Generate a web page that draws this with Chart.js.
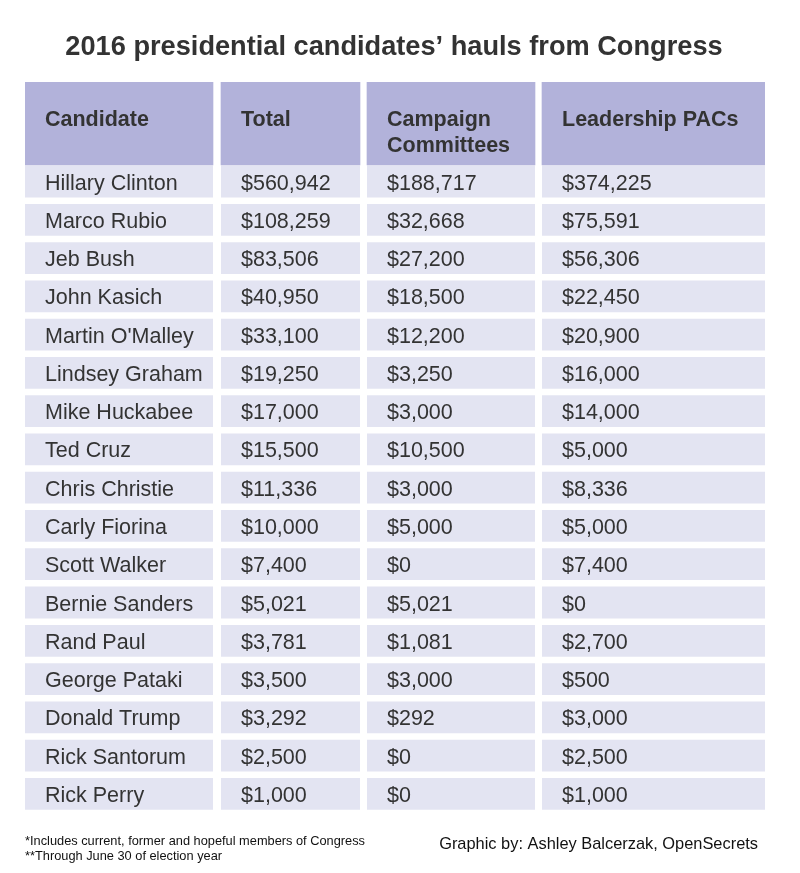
<!DOCTYPE html>
<html>
<head>
<meta charset="utf-8">
<script src="https://cdn.jsdelivr.net/npm/chart.js@4.4.1/dist/chart.umd.min.js"></script>
<style>
  html, body { margin: 0; padding: 0; background: #fff; }
  #wrap { width: 800px; height: 873px; position: relative; }
</style>
</head>
<body>
<div id="wrap"><canvas id="myChart"></canvas></div>
<script>
// table data ------------------------------------------------------------
var columns = ['Candidate', 'Total', 'Campaign\nCommittees', 'Leadership PACs'];
var candidates = ['Hillary Clinton', 'Marco Rubio', 'Jeb Bush', 'John Kasich', "Martin O'Malley",
    'Lindsey Graham', 'Mike Huckabee', 'Ted Cruz', 'Chris Christie', 'Carly Fiorina', 'Scott Walker',
    'Bernie Sanders', 'Rand Paul', 'George Pataki', 'Donald Trump', 'Rick Santorum', 'Rick Perry'];
var totals = [560942, 108259, 83506, 40950, 33100, 19250, 17000, 15500, 11336, 10000, 7400, 5021, 3781, 3500, 3292, 2500, 1000];
var campaignCommittees = [188717, 32668, 27200, 18500, 12200, 3250, 3000, 10500, 3000, 5000, 0, 5021, 1081, 3000, 292, 0, 0];
var leadershipPACs = [374225, 75591, 56306, 22450, 20900, 16000, 14000, 5000, 8336, 5000, 7400, 0, 2700, 500, 3000, 2500, 1000];

var title = '2016 presidential candidates\u2019 hauls from Congress';
var notes = ['*Includes current, former and hopeful members of Congress', '**Through June 30 of election year'];
var credit = 'Graphic by: Ashley Balcerzak, OpenSecrets';

// layout (x axis units = column widths, y axis units = rows)
var colSpans = [[0, 188], [196, 335], [342, 510], [517, 740]];
var headerRows = 2.1;
var headerColor = '#b2b2da';
var cellColor = '#e3e4f2';
var textColor = '#333333';

function money(v) {
    return '$' + v.toLocaleString('en-US');
}

var cellText = [candidates, totals.map(money), campaignCommittees.map(money), leadershipPACs.map(money)];

var datasets = [];
colSpans.forEach(function (span, c) {
    datasets.push({
        label: 'header ' + c,
        data: [{ x: span, y: -headerRows / 2 + 0.03 }],
        backgroundColor: headerColor,
        barThickness: 83
    });
});
colSpans.forEach(function (span, c) {
    datasets.push({
        label: columns[c],
        data: candidates.map(function (name, i) { return { x: span, y: i + 0.5 }; }),
        backgroundColor: cellColor,
        categoryPercentage: 1,
        barPercentage: 0.83
    });
});

var tableText = {
    id: 'tableText',
    afterDatasetsDraw: function (chart) {
        var ctx = chart.ctx;
        var xs = chart.scales.x, ys = chart.scales.y;
        ctx.save();
        ctx.fillStyle = textColor;
        ctx.textAlign = 'left';
        ctx.textBaseline = 'alphabetic';

        // title
        ctx.font = 'bold 27.2px "Liberation Sans", Arial, sans-serif';
        ctx.textAlign = 'center';
        ctx.fillText(title, 394, 55);
        ctx.textAlign = 'left';

        // header
        ctx.font = 'bold 21.5px "Liberation Sans", Arial, sans-serif';
        var top = ys.getPixelForValue(-headerRows);
        columns.forEach(function (name, c) {
            var x = xs.getPixelForValue(colSpans[c][0]) + 20;
            name.split('\n').forEach(function (line, k) {
                ctx.fillText(line, x, top + 44 + k * 26);
            });
        });

        // body
        ctx.font = '21.5px "Liberation Sans", Arial, sans-serif';
        cellText.forEach(function (col, c) {
            var x = xs.getPixelForValue(colSpans[c][0]) + 20;
            col.forEach(function (txt, i) {
                ctx.fillText(txt, x, ys.getPixelForValue(i + 0.5) + 8);
            });
        });

        // notes
        ctx.fillStyle = '#111';
        ctx.font = '12.8px "Liberation Sans", Arial, sans-serif';
        ctx.fillText(notes[0], 25, 845);
        ctx.fillText(notes[1], 25, 860);
        ctx.font = '16.4px "Liberation Sans", Arial, sans-serif';
        ctx.textAlign = 'right';
        ctx.fillText(credit, 758, 849);
        ctx.restore();
    }
};

var c = new Chart(document.getElementById('myChart'), {
    type: 'bar',
    data: { datasets: datasets },
    options: {
        indexAxis: 'y',
        responsive: true,
        maintainAspectRatio: false,
        animation: false,
        layout: { padding: { left: 25, right: 35, top: 82, bottom: 60 } },
        elements: { bar: { borderWidth: 0, borderSkipped: false } },
        datasets: { bar: { grouped: false } },
        scales: {
            x: { type: 'linear', min: 0, max: 740, display: false, offset: false },
            y: {
                type: 'linear', reverse: true, min: -headerRows, max: candidates.length,
                display: false, offset: false,
                ticks: { stepSize: 1, includeBounds: false }
            }
        },
        plugins: {
            legend: { display: false },
            tooltip: { enabled: false }
        }
    },
    plugins: [tableText]
});
</script>
</body>
</html>
